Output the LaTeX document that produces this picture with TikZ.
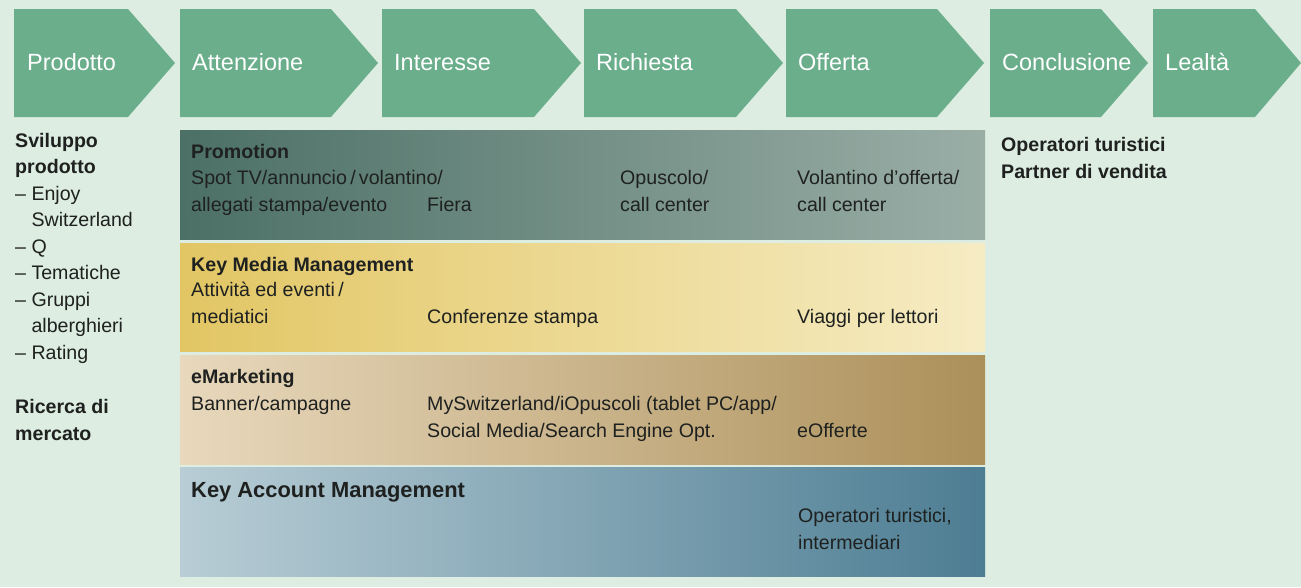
\documentclass[tikz,border=0pt]{standalone}
\usepackage{fontspec}
\setmainfont{Liberation Sans}

% Colours
\definecolor{mint}{HTML}{DDEDE1}
\definecolor{phasegreen}{HTML}{6AAE8B}
\definecolor{ink}{HTML}{1E211F}
\definecolor{promoL}{HTML}{4C7066}
\definecolor{promoM}{HTML}{668A80}
\definecolor{promoR}{HTML}{9AAEA6}
\definecolor{mediaL}{HTML}{E2C664}
\definecolor{mediaM}{HTML}{EFDC93}
\definecolor{mediaR}{HTML}{F6ECC4}
\definecolor{emarkL}{HTML}{E8D8BC}
\definecolor{emarkM}{HTML}{C9AE80}
\definecolor{emarkR}{HTML}{AC905A}
\definecolor{kamL}{HTML}{B8CDD5}
\definecolor{kamM}{HTML}{86A6B5}
\definecolor{kamR}{HTML}{4D7D93}

% multi-line nodes sit on the baseline of their last line
\tikzset{
  phase/.style={fill=phasegreen},
  phaselabel/.style={anchor=base west, inner sep=0pt, text=white,
    font=\fontsize{23.5}{28}\selectfont},
  txt/.style={anchor=base west, inner sep=0pt, text=ink, align=left,
    font=\fontsize{19.6}{26.5}\selectfont},
  head/.style={txt, font=\fontsize{19.6}{26.5}\selectfont\bfseries},
}

\begin{document}
\begin{tikzpicture}[x=1pt, y=-1pt]

  % Background
  \fill[mint] (0,0) rectangle (1301,587);
  \useasboundingbox (0,0) rectangle (1301,587);

  % Phase arrows: left edge, shoulder, tip (top 9, bottom 117)
  \fill[phase] (14,9) -- (128,9) -- (175,63) -- (128,117) -- (14,117) -- cycle;
  \fill[phase] (180,9) -- (331,9) -- (378,63) -- (331,117) -- (180,117) -- cycle;
  \fill[phase] (382,9) -- (534,9) -- (581,63) -- (534,117) -- (382,117) -- cycle;
  \fill[phase] (584,9) -- (736,9) -- (783,63) -- (736,117) -- (584,117) -- cycle;
  \fill[phase] (786,9) -- (937,9) -- (984,63) -- (937,117) -- (786,117) -- cycle;
  \fill[phase] (990,9) -- (1101,9) -- (1148,63) -- (1101,117) -- (990,117) -- cycle;
  \fill[phase] (1153,9) -- (1255,9) -- (1301,63) -- (1255,117) -- (1153,117) -- cycle;

  % Phase names
  \node[phaselabel] (prodotto) at (27,70) {Prodotto};
  \node[phaselabel] (attenzione) at (192,70) {Attenzione};
  \node[phaselabel] (interesse) at (394,70) {Interesse};
  \node[phaselabel] (richiesta) at (596,70) {Richiesta};
  \node[phaselabel] (offerta) at (798,70) {Offerta};
  \node[phaselabel] (conclusione) at (1002,70) {Conclusione};
  \node[phaselabel] (lealta) at (1165,70) {Lealtà};

  % Left column: product side
  \node[txt] (sviluppo) at (15,359) {\textbf{Sviluppo}\\
    \textbf{prodotto}\\
    – Enjoy\\
    \phantom{– }Switzerland\\
    – Q\\
    – Tematiche\\
    – Gruppi\\
    \phantom{– }alberghieri\\
    – Rating};
  \node[head] (ricerca) at (15,440) {Ricerca di\\mercato};

  % Promotion band
  \shade[left color=promoL, middle color=promoM, right color=promoR]
    (180,130) rectangle (985,239);
  \node[head] (promo) at (191,158) {Promotion};
  \node[txt] (promo1) at (191,211) {Spot TV/annuncio\,/\,volantino/\\allegati stampa/evento};
  \node[txt] (promo2) at (427,211) {Fiera};
  \node[txt] (promo3) at (620,211) {Opuscolo/\\call center};
  \node[txt] (promo4) at (797,211) {Volantino d’offerta/\\call center};

  % Key Media Management band
  \shade[left color=mediaL, middle color=mediaM, right color=mediaR]
    (180,243) rectangle (985,351);
  \node[head] (media) at (191,271) {Key Media Management};
  \node[txt] (media1) at (191,323) {Attività ed eventi\,/\\mediatici};
  \node[txt] (media2) at (427,323) {Conferenze stampa};
  \node[txt] (media3) at (797,323) {Viaggi per lettori};

  % eMarketing band
  \shade[left color=emarkL, middle color=emarkM, right color=emarkR]
    (180,355) rectangle (985,464);
  \node[head] (emark) at (191,383) {eMarketing};
  \node[txt] (emark1) at (191,410) {Banner/campagne};
  \node[txt] (emark2) at (427,437) {MySwitzerland/iOpuscoli (tablet PC/app/\\Social Media/Search Engine Opt.};
  \node[txt] (emark3) at (797,437) {eOfferte};

  % Key Account Management band
  \shade[left color=kamL, middle color=kamM, right color=kamR]
    (180,467) rectangle (985,576);
  \node[head, font=\fontsize{21.9}{26.5}\selectfont\bfseries] (kam) at (191,497) {Key Account Management};
  \node[txt] (kam1) at (798,549) {Operatori turistici,\\intermediari};

  % Right column: sales side
  \node[head] (partner) at (1001,178) {Operatori turistici\\Partner di vendita};

\end{tikzpicture}
\end{document}
